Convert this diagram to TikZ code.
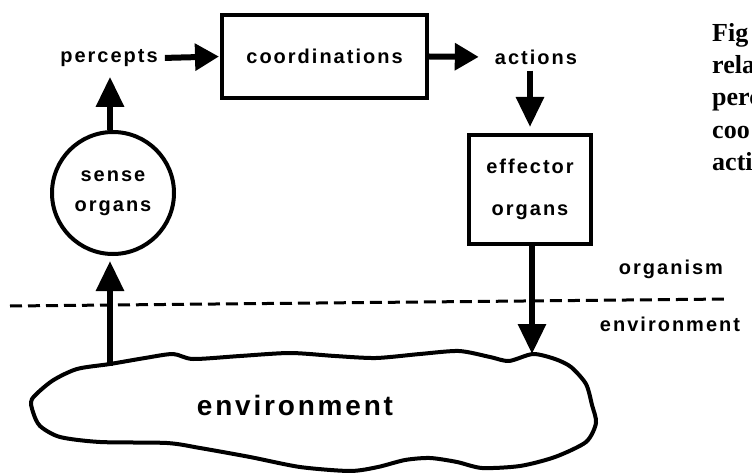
\documentclass[tikz,border=0pt]{standalone}
\usepackage{fontspec}
\usetikzlibrary{arrows.meta}
\newfontfamily\labelfont[LetterSpace=10]{Liberation Sans}
\newfontfamily\capfont{Liberation Serif}
\begin{document}
\begin{tikzpicture}[x=1pt,y=-1pt,
  lbl/.style={font=\labelfont\bfseries\fontsize{20}{30}\selectfont, inner sep=4pt, align=center},
  biglbl/.style={font=\labelfont\bfseries\fontsize{28}{32}\selectfont, inner sep=4pt},
  boxst/.style={draw, line width=4pt, lbl, minimum width=#1},
  arr/.style={line width=6pt, -{Triangle[length=30pt,width=27pt]}},
  harr/.style={line width=6pt, -{Triangle[length=24pt,width=26pt]}},
  captext/.style={font=\capfont\bfseries\fontsize{26}{32}\selectfont, anchor=base west, inner sep=0pt}
]
\useasboundingbox (0,0) rectangle (752,473);

% top row: percepts -> coordinations -> actions
\node[lbl] (percepts) at (109,58) {percepts};
\node[boxst=205pt, minimum height=83pt] (coord) at (324.5,56.5) {coordinations};
\node[lbl] (actions) at (536,57) {actions};

% sense and effector organs
\node[draw, circle, line width=4pt, minimum size=122pt, lbl] (sense) at (113,193) {sense\\organs};
\node[boxst=122pt, minimum height=109pt, font=\labelfont\bfseries\fontsize{20}{42}\selectfont] (effector) at (530,189.5) {effector\\organs};

% the environment blob
\draw[line width=4pt, line join=round] plot[smooth cycle, tension=0.45] coordinates {
  (32,399) (52,381) (77,369) (110,364) (145,358) (173,354) (193,359) (240,356)
  (290,353) (335,356) (376,358) (420,354) (459,351) (490,357) (509,361) (533,354)
  (555,359) (571,367) (586,384) (592,405) (596,423) (586,442) (555,457) (520,466)
  (482,468) (457,462) (430,458) (405,460) (378,467) (350,471) (300,467) (250,457)
  (200,448) (167,443) (100,442) (60,437) (40,426) (33,412)};
\node[biglbl] (env) at (295,405) {environment};
\coordinate (envL) at (110,366);
\coordinate (envR) at (532,354);

% organism / environment boundary
\coordinate (dl) at (10,306);
\coordinate (dr) at (729,299);
\draw[line width=3pt, dash pattern=on 12pt off 6pt] (dl) -- (dr);
\node[lbl] (organism) at (671,269) {organism};
\node[lbl] (envsmall) at (670,324) {environment};

% connectors
\draw[harr, shorten <=3pt, shorten >=1pt] (percepts.east) -- (coord.west);
\draw[harr, shorten >=12pt] (coord.east) -- (actions.west);
\draw[arr, shorten <=2pt, shorten >=6pt] (actions.south -| effector.north) -- (effector.north);
\draw[arr, shorten >=6pt] (sense.north -| 110,0) -- (percepts.south -| 110,0);
\draw[arr, shorten >=5pt] (envL) -- (sense.south -| envL);
\draw[arr] (effector.south -| envR) -- (envR);

% caption column
\node[captext] (c1) at (712,42) {Fig};
\node[captext] (c2) at (712,74) {rela};
\node[captext] (c3) at (712,106) {perc};
\node[captext] (c4) at (712,139) {coo};
\node[captext] (c5) at (712,171) {acti};
\end{tikzpicture}
\end{document}
